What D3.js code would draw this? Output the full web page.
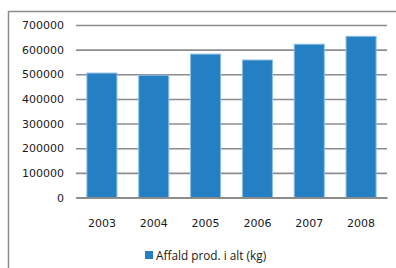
<!DOCTYPE html>
<html>
<head>
<meta charset="utf-8">
<script src="https://cdn.jsdelivr.net/npm/d3@7"></script>
<style>
  body { margin: 0; background: #fff; }
  svg { display: block; }
</style>
</head>
<body>
<svg id="chart"></svg>
<script>
'use strict';

const years = ['2003', '2004', '2005', '2006', '2007', '2008'];
const waste = [505000, 496000, 582000, 558000, 622000, 654000];
const yTicks = [0, 100000, 200000, 300000, 400000, 500000, 600000, 700000];
const seriesName = 'Affald prod. i alt (kg)';

const W = 396, H = 268;
const margin = { top: 25, right: 9, bottom: 70.5, left: 76 };
const width = W - margin.left - margin.right;
const height = H - margin.top - margin.bottom;

const svg = d3.select('#chart')
    .attr('width', W)
    .attr('height', H);

// outer frame (runs off the right and bottom edges)
svg.append('path')
    .attr('d', `M8.5,${H + 5}V11.5H${W + 5}`)
    .attr('fill', 'none')
    .attr('stroke', '#8c8c8c')
    .attr('stroke-width', 1.5);

const graph = svg.append('g')
    .attr('transform', `translate(${margin.left}, ${margin.top})`);

const x = d3.scaleBand()
    .domain(years)
    .range([0, width])
    .paddingInner(0.42)
    .paddingOuter(0.21);

const y = d3.scaleLinear()
    .domain([0, 700000])
    .range([height, 0]);

const yAxis = d3.axisLeft(y)
    .tickValues(yTicks)
    .tickFormat(d3.format('d'))
    .tickSize(-width)
    .tickPadding(12);

graph.append('g')
    .attr('class', 'y-axis')
    .call(yAxis)
    .call(g => g.select('.domain').remove())
    .call(g => g.selectAll('.tick line')
        .attr('stroke', '#8c8c8c')
        .attr('stroke-width', 1.6))
    .call(g => g.selectAll('.tick text')
        .attr('fill', '#1a1a1a')
        .style('font-family', 'DejaVu Sans')
        .style('font-size', '11px'));

graph.append('g')
    .attr('fill', '#2580c3')
    .attr('stroke', '#8dbde6')
    .attr('stroke-width', 1)
    .selectAll('rect')
    .data(waste)
  .enter().append('rect')
    .attr('x', (d, i) => x(years[i]))
    .attr('y', d => y(d))
    .attr('width', x.bandwidth())
    .attr('height', d => y(0) - y(d));

const xAxis = d3.axisBottom(x)
    .tickSize(0)
    .tickPadding(22);

graph.append('g')
    .attr('class', 'x-axis')
    .attr('transform', `translate(0, ${height})`)
    .call(xAxis)
    .call(g => g.select('.domain')
        .attr('stroke', '#8c8c8c')
        .attr('stroke-width', 2))
    .call(g => g.selectAll('.tick text')
        .attr('fill', '#1a1a1a')
        .style('font-family', 'DejaVu Sans')
        .style('font-size', '11px'));

// legend
const legend = svg.append('g')
    .attr('transform', 'translate(145, 251)');

legend.append('rect')
    .attr('width', 8)
    .attr('height', 8)
    .attr('fill', '#2580c3');

legend.append('text')
    .attr('x', 11)
    .attr('y', 8.5)
    .attr('fill', '#1a1a1a')
    .style('font-family', 'Open Sans')
    .style('font-size', '11.8px')
    .text(seriesName);
</script>
</body>
</html>
